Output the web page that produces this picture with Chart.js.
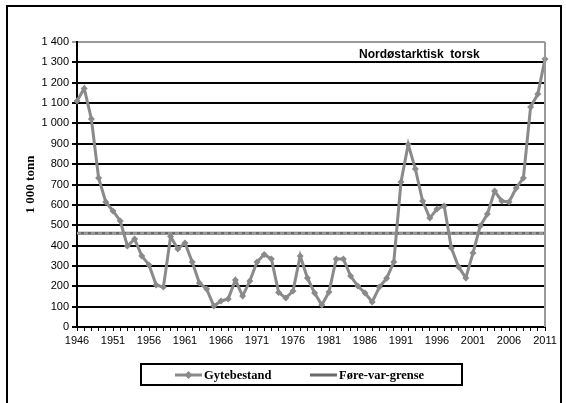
<!DOCTYPE html>
<html>
<head>
<meta charset="utf-8">
<script src="https://cdn.jsdelivr.net/npm/chart.js@4.4.1/dist/chart.umd.min.js"></script>
<style>
  html,body{margin:0;padding:0;background:#fff;}
  #wrap{position:relative;width:566px;height:403px;overflow:hidden;}
  #frame{position:absolute;left:6px;top:5px;width:556px;height:420px;border:2px solid #000;box-sizing:border-box;pointer-events:none;}
  canvas{position:absolute;left:0;top:0;}
</style>
</head>
<body>
<div id="wrap">
<canvas id="c" width="566" height="403"></canvas>
<div id="frame"></div>
</div>
<script>
const years = [];
for (let y = 1946; y <= 2011; y++) years.push(String(y));

const gytebestand = [
  1110, 1172, 1022, 732, 614, 570, 521, 398, 432, 349,
  305, 206, 196, 444, 383, 413, 319, 216, 187, 103,
  128, 138, 231, 152, 226, 319, 356, 334, 170, 142,
  177, 349, 241, 167, 108, 172, 334, 334, 250, 201,
  167, 123, 196, 239, 319, 712, 897, 776, 619, 535,
  580, 594, 388, 295, 241, 364, 496, 555, 668, 619,
  614, 683, 732, 1081, 1144, 1316
];
const foreVarGrense = years.map(() => 460);

const yTicks = [0,100,200,300,400,500,600,700,800,900,1000,1100,1200,1300,1400];
const chartTitle = 'Nordøstarktisk  torsk';
const yTitle = '1 000 tonn';
const legendLabels = ['Gytebestand', 'Føre-var-grense'];

const lineGray = '#8a8a8a';
const refGray = '#6a6a6a';

function fmt(v){
  if (v >= 1000) { const r = v % 1000; return Math.floor(v/1000) + ' ' + String(r).padStart(3,'0'); }
  return String(v);
}

const overlay = {
  id: 'overlay',
  afterDatasetsDraw(chart){
    const ctx = chart.ctx, ca = chart.chartArea;
    ctx.save();
    ctx.strokeStyle = '#9a9a9a';
    ctx.lineWidth = 2;
    ctx.beginPath();
    ctx.moveTo(ca.right, ca.top); ctx.lineTo(ca.right, ca.bottom);
    ctx.stroke();
    ctx.fillStyle = '#000';
    ctx.font = 'bold 12px "Liberation Sans", Arial, sans-serif';
    ctx.textAlign = 'left';
    ctx.textBaseline = 'middle';
    ctx.fillText(chartTitle, 359, 55);
    ctx.restore();
  },
  afterDraw(chart){
    const ctx = chart.ctx;
    ctx.save();
    ctx.strokeStyle = '#000';
    ctx.lineWidth = 2;
    ctx.strokeRect(141, 364, 321, 21);
    const cy = 375;
    ctx.strokeStyle = lineGray; ctx.lineWidth = 3;
    ctx.beginPath(); ctx.moveTo(175, cy); ctx.lineTo(202, cy); ctx.stroke();
    ctx.fillStyle = lineGray;
    ctx.beginPath();
    ctx.moveTo(188.5, cy-4); ctx.lineTo(192.5, cy); ctx.lineTo(188.5, cy+4); ctx.lineTo(184.5, cy); ctx.closePath(); ctx.fill();
    ctx.strokeStyle = refGray; ctx.lineWidth = 3;
    ctx.beginPath(); ctx.moveTo(310, cy); ctx.lineTo(337, cy); ctx.stroke();
    ctx.fillStyle = '#000';
    ctx.font = 'bold 12.5px "Liberation Serif", "Times New Roman", serif';
    ctx.textAlign = 'left'; ctx.textBaseline = 'middle';
    ctx.fillText(legendLabels[0], 204, cy+1);
    ctx.fillText(legendLabels[1], 339, cy+1);
    ctx.restore();
  }
};

new Chart(document.getElementById('c'), {
  type: 'line',
  data: {
    labels: years,
    datasets: [
      {
        label: legendLabels[1],
        data: foreVarGrense,
        borderColor: refGray,
        borderWidth: 3,
        pointRadius: 0,
        tension: 0,
        order: 3
      },
      {
        label: 'dots',
        data: foreVarGrense,
        borderColor: '#a0a0a0',
        borderWidth: 2,
        borderDash: [4, 3],
        pointRadius: 0,
        tension: 0,
        order: 2
      },
      {
        label: legendLabels[0],
        data: gytebestand,
        borderColor: lineGray,
        backgroundColor: lineGray,
        borderWidth: 3,
        pointStyle: 'rectRot',
        pointRadius: 3.5,
        pointBorderWidth: 0,
        pointBackgroundColor: lineGray,
        tension: 0,
        order: 1
      }
    ]
  },
  options: {
    responsive: false,
    animation: false,
    layout: { padding: { left: 10, top: 42, right: 21, bottom: 51 } },
    plugins: { legend: { display: false }, tooltip: { enabled: false }, title: { display: false } },
    scales: {
      x: {
        type: 'category',
        offset: false,
        afterFit(s){ s.height = 25; },
        grid: { display: true, drawOnChartArea: false, drawTicks: true, tickLength: 4, color: '#000', lineWidth: 1 },
        border: { display: true, color: '#000', width: 2 },
        ticks: {
          autoSkip: false, maxRotation: 0, minRotation: 0, padding: 3,
          color: '#000',
          font: { family: '"Liberation Sans", Arial, sans-serif', size: 11 },
          callback(v, i){ return (i % 5 === 0) ? years[i] : ''; }
        }
      },
      y: {
        min: 0, max: 1400,
        afterFit(s){ s.width = 67; },
        afterBuildTicks(s){ s.ticks = yTicks.map(v => ({ value: v })); },
        grid: {
          color(ctx){ return ctx.tick && ctx.tick.value === 1400 ? '#9a9a9a' : '#000'; },
          lineWidth: 2, tickLength: 5, drawTicks: true
        },
        border: { display: true, color: '#000', width: 2 },
        ticks: {
          padding: 3, color: '#000',
          font: { family: '"Liberation Sans", Arial, sans-serif', size: 11 },
          callback(v){ return fmt(v); }
        },
        title: {
          display: true, text: yTitle, color: '#000',
          font: { family: '"Liberation Serif", "Times New Roman", serif', size: 13, weight: 'bold' },
          padding: { top: 13, bottom: 0 }
        }
      }
    }
  },
  plugins: [overlay]
});
</script>
</body>
</html>
